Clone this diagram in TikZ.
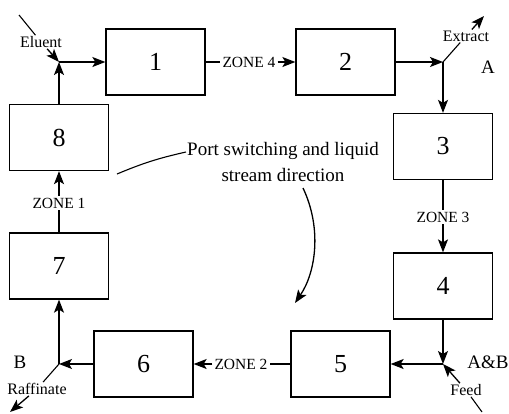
\documentclass[tikz,border=0pt]{standalone}
\usepackage{fontspec}
\setmainfont{Liberation Serif}
\usetikzlibrary{arrows.meta,positioning}

\begin{document}
\begin{tikzpicture}[
  x=1pt, y=-1pt,
  column/.style={rectangle, draw, line width=1.3pt, minimum width=99pt, minimum height=66pt, font=\fontsize{26}{28}\selectfont},
  zone/.style={inner sep=2pt, font=\fontsize{15.5}{17}\selectfont},
  port/.style={inner sep=1pt, font=\fontsize{16}{18}\selectfont},
  solute/.style={font=\fontsize{19}{21}\selectfont},
  flow/.style={draw, line width=1.3pt, ->, >={Stealth[length=13pt,width=10pt,inset=3pt]}}
]
  \useasboundingbox (0,0) rectangle (509,413);
  % columns
  \node[column] (c1) at (155.5,62) {1};
  \node[column] (c2) at (345.5,62) {2};
  \node[column] (c3) at (443,146.5) {3};
  \node[column] (c4) at (443,286) {4};
  \node[column] (c5) at (340.5,364) {5};
  \node[column] (c6) at (143.5,364) {6};
  \node[column] (c7) at (59,266) {7};
  \node[column] (c8) at (59,137.5) {8};
  % junctions
  \coordinate (elu) at (59,62);
  \coordinate (ext) at (443,62);
  \coordinate (feed) at (443,364);
  \coordinate (raf) at (59,364);
  % zones
  \node[zone] (z4) at (249,62) {ZONE 4};
  \node[zone] (z3) at (443,217) {ZONE 3};
  \node[zone] (z2) at (241,364) {ZONE 2};
  \node[zone] (z1) at (59,203) {ZONE 1};
  \draw[line width=1.3pt] (c1) -- (z4);
  \draw[flow] (z4) -- (c2);
  \draw[line width=1.3pt] (c3) -- (z3);
  \draw[flow] (z3) -- (c4);
  \draw[line width=1.3pt] (c5) -- (z2);
  \draw[flow] (z2) -- (c6);
  \draw[line width=1.3pt] (c7) -- (z1);
  \draw[flow] (z1) -- (c8);
  % liquid stream
  \draw[flow] (elu) -- (c1);
  \draw[flow] (c2) -- (ext);
  \draw[flow] (ext) -- (c3);
  \draw[flow] (c4) -- (feed);
  \draw[flow] (feed) -- (c5);
  \draw[flow] (c6) -- (raf);
  \draw[flow] (raf) -- (c7);
  \draw[flow] (c8) -- (elu);
  % ports
  \coordinate (eluS) at (19,15);
  \node[port] (eluT) at (41,42) {Eluent};
  \draw[line width=1.1pt] (eluS) -- (eluT);
  \draw[flow] (eluT) -- (elu);
  \coordinate (extE) at (484,16);
  \node[port] (extT) at (466,36) {Extract};
  \draw[line width=1.1pt] (ext) -- (extT);
  \draw[flow] (extT) -- (extE);
  \coordinate (rafE) at (10,412);
  \node[port] (rafT) at (37,389) {Raffinate};
  \draw[line width=1.1pt] (raf) -- (rafT);
  \draw[flow] (rafT) -- (rafE);
  \coordinate (feedS) at (482,412);
  \node[port] (feedT) at (466,390) {Feed};
  \draw[line width=1.1pt] (feedS) -- (feedT);
  \draw[flow] (feedT) -- (feed);
  \node[solute] (compA) at (488,67) {A};
  \node[solute] (compB) at (20,362) {B};
  \node[solute] (compAB) at (488,362) {A\&B};
  % note
  \node[align=center, inner sep=1pt, font=\fontsize{19}{26}\selectfont] (note) at (283,162) {Port switching and liquid\\stream direction};
  \coordinate (noteS) at (117,174);
  \draw[line width=1.1pt] (noteS) to[bend left=5] ([yshift=10pt]note.west);
  \coordinate (dirS) at (303,188);
  \coordinate (dirE) at (295,303);
  \draw[flow] (dirS) .. controls (322,228) and (316,272) .. (dirE);
\end{tikzpicture}
\end{document}
